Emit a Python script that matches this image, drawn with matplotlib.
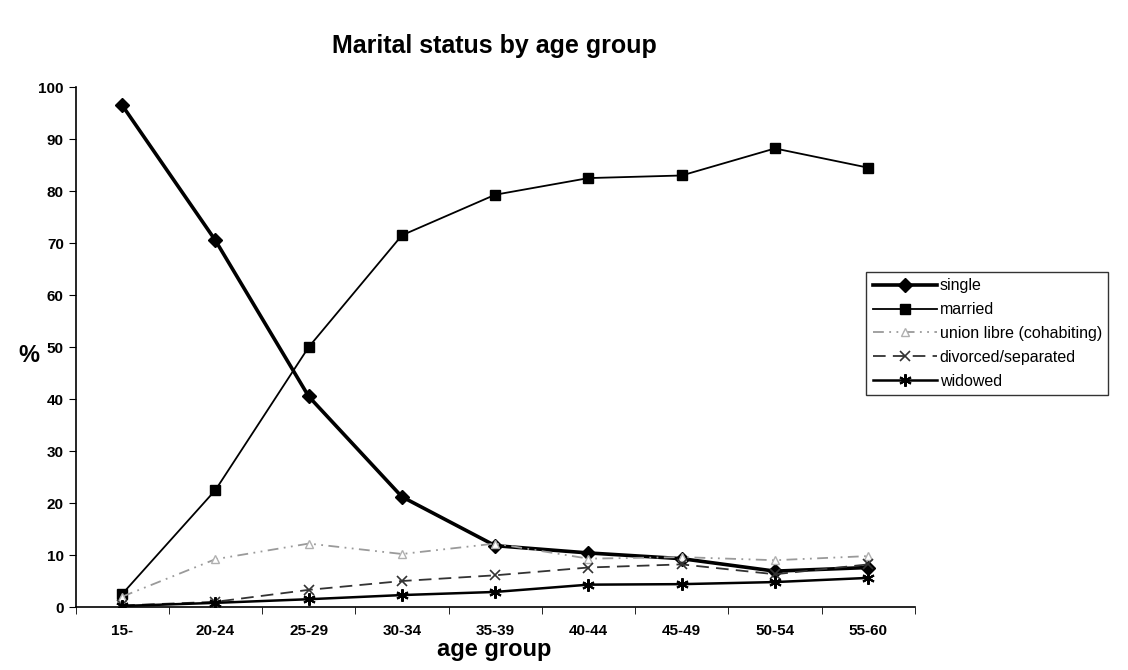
import matplotlib
matplotlib.use("Agg")
import matplotlib.pyplot as plt

plt.rcParams['font.family'] = ['Liberation Sans', 'DejaVu Sans']

age_groups = ["15-", "20-24", "25-29", "30-34", "35-39", "40-44", "45-49", "50-54", "55-60"]
single = [96.5, 70.5, 40.5, 21.2, 11.8, 10.4, 9.3, 6.9, 7.6]
married = [2.5, 22.5, 50.0, 71.5, 79.3, 82.5, 83.0, 88.2, 84.5]
union_libre = [2.0, 9.2, 12.2, 10.2, 12.2, 9.3, 9.6, 9.0, 9.8]
divorced = [0.3, 1.0, 3.3, 5.0, 6.1, 7.6, 8.2, 6.3, 8.2]
widowed = [0.2, 0.8, 1.5, 2.3, 2.9, 4.3, 4.4, 4.8, 5.6]

fig = plt.figure(figsize=(11.28, 6.70), dpi=100)
ax = fig.add_axes([0.067, 0.094, 0.744, 0.776])
x = range(len(age_groups))

ax.plot(x, single, color='black', lw=2.6, marker='D', ms=7, label='single')
ax.plot(x, married, color='black', lw=1.3, marker='s', ms=7, label='married')
ax.plot(x, union_libre, color='#9a9a9a', lw=1.3, ls=(0, (6, 3, 1, 3, 1, 3)),
        marker='^', ms=6, mfc='white', mec='#b0b0b0', label='union libre (cohabiting)')
ax.plot(x, divorced, color='#333333', lw=1.3, ls=(0, (7, 4)), marker='x', ms=7,
        mew=1.2, label='divorced/separated')
ax.plot(x, widowed, color='black', lw=1.8, marker=(6, 2, 0), ms=9, mew=1.5, label='widowed')

ax.set_xlim(-0.5, len(age_groups) - 0.5)
ax.set_ylim(0, 100)
ax.set_yticks(range(0, 101, 10))
ax.set_xticks(list(x))
ax.set_xticklabels(age_groups, fontsize=11, fontweight='bold')
ax.set_xticks([i + 0.5 for i in range(-1, len(age_groups))], minor=True)
ax.tick_params(axis='x', which='major', length=0, pad=12)
ax.tick_params(axis='x', which='minor', length=5, direction='out')
ax.tick_params(axis='y', length=5, direction='out', labelsize=11)
for lbl in ax.get_yticklabels():
    lbl.set_fontweight('bold')
for s in ['top', 'right']:
    ax.spines[s].set_visible(False)
ax.spines['left'].set_linewidth(1.2)
ax.spines['bottom'].set_linewidth(1.2)

fig.text(0.438, 0.030, 'age group', fontsize=17, fontweight='bold', ha='center', va='center')
fig.text(0.026, 0.47, '%', fontsize=17, fontweight='bold', ha='center', va='center')
fig.text(0.438, 0.931, 'Marital status by age group', fontsize=18, fontweight='bold',
         ha='center', va='center')

leg = fig.legend(loc='upper left', bbox_to_anchor=(0.768, 0.594), fontsize=11.5,
                 frameon=True, fancybox=False, edgecolor='black', handlelength=4.0,
                 handletextpad=0.2, labelspacing=0.55, borderpad=0.4, borderaxespad=0)
leg.get_frame().set_linewidth(1.0)

fig.savefig('out.png', dpi=100)
